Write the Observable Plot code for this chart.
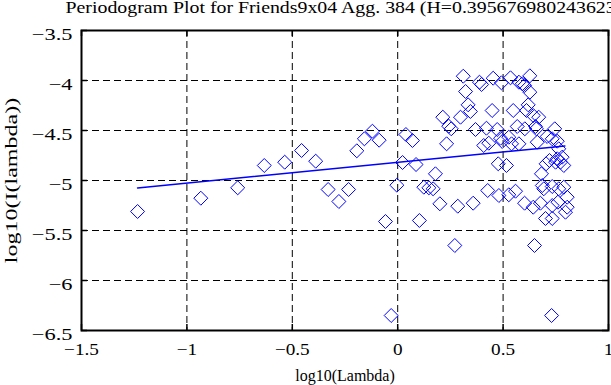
<!DOCTYPE html>
<html>
<head>
<meta charset="utf-8">
<script src="https://cdn.jsdelivr.net/npm/d3@7"></script>
<script src="https://cdn.jsdelivr.net/npm/@observablehq/plot@0.6"></script>
<style>
  html, body { margin: 0; padding: 0; background: white; overflow: hidden; }
</style>
</head>
<body>
<div id="chart"></div>
<script>
const titleText = "Periodogram Plot for Friends9x04 Agg. 384 (H=0.395676980243623)";
const xLabel = "log10(Lambda)";
const yLabel = "log10(I(lambda))";

const xTicks = [-1.5, -1, -0.5, 0, 0.5, 1];
const yTicks = [-6.5, -6, -5.5, -5, -4.5, -4, -3.5];

// periodogram points: log10(lambda)
const logLambda = [
  -1.234, -0.934, -0.759, -0.633, -0.536, -0.456, -0.389, -0.330, -0.279, -0.233,
  -0.194, -0.158, -0.120, -0.088, -0.058, -0.004, 0.023, 0.039, 0.070, 0.087,
  -0.031, 0.103, 0.124, 0.148, 0.168,
  0.311, 0.388, 0.398, 0.453, 0.492, 0.535, 0.575, 0.591, 0.602, 0.627,
  0.322, 0.627, 0.334, 0.345, 0.448, 0.548, 0.619, 0.611, 0.643, 0.669,
  0.214, 0.298, 0.242, 0.254, 0.369, 0.421, 0.472, 0.567, 0.603, 0.654,
  0.658, 0.232, 0.408, 0.432, 0.488, 0.496, 0.527, 0.540, 0.575, 0.662,
  0.709, 0.733, 0.745, 0.757, 0.477, 0.516, 0.179, 0.682, 0.704, 0.720,
  0.757, 0.772, 0.788, 0.780, 0.427, 0.480, 0.527, 0.559, 0.686, 0.693,
  0.733, 0.764, 0.788, 0.804, 0.200, 0.285, 0.358, 0.602, 0.643, 0.677,
  0.760, 0.796, 0.701, 0.733, 0.271, 0.649, 0.730, 0.764, 0.804, 0.733,
  0.749
];
// periodogram points: log10(I(lambda))
const logI = [
  -5.310, -5.177, -5.073, -4.850, -4.817, -4.700, -4.807, -5.090, -5.210, -5.090,
  -4.703, -4.583, -4.507, -4.597, -5.410, -5.047, -4.820, -4.540, -4.600, -4.840,
  -6.350, -5.400, -5.067, -5.073, -5.083,
  -3.957, -4.017, -4.040, -3.977, -4.023, -3.973, -4.017, -4.033, -4.050, -3.953,
  -4.110, -4.117, -4.243, -4.310, -4.300, -4.300, -4.243, -4.300, -4.350, -4.367,
  -4.367, -4.367, -4.457, -4.483, -4.490, -4.477, -4.490, -4.460, -4.483, -4.460,
  -4.483, -4.633, -4.650, -4.627, -4.577, -4.610, -4.567, -4.633, -4.633, -4.617,
  -4.560, -4.583, -4.483, -4.607, -4.833, -4.850, -4.933, -4.933, -4.833, -4.800,
  -4.783, -4.817, -4.850, -4.767, -5.100, -5.150, -5.143, -5.107, -5.050, -5.083,
  -5.060, -5.083, -5.067, -5.167, -5.233, -5.257, -5.227, -5.227, -5.267, -5.227,
  -5.217, -5.317, -5.380, -5.380, -5.650, -5.650, -6.350, -4.683, -5.267, -5.250,
  -4.817
];

// least-squares fit line endpoints
const fitX = [-1.234, 0.793];
const fitY = [-5.074, -4.654];

const points = logLambda.map((x, i) => ({x, y: logI[i]}));
const fit = fitX.map((x, i) => ({x, y: fitY[i]}));
const xGrid = xTicks.slice(1, -1);
const yGrid = yTicks.slice(1, -1);
const fmt = d => (d < 0 ? "\u2212" : "") + Math.abs(d);

const blue = "#0000ff";
const plot = Plot.plot({
  width: 611,
  height: 385,
  marginLeft: 81,
  marginRight: 3,
  marginTop: 30,
  marginBottom: 55,
  x: {domain: [-1.5, 1]},
  y: {domain: [-6.5, -3.5]},
  style: {fontFamily: "'Liberation Serif', 'Times New Roman', serif", fontSize: "16px", background: "white", color: "black"},
  marks: [
    Plot.ruleX(xGrid, {stroke: "black", strokeWidth: 1, strokeDasharray: "7,4"}),
    Plot.ruleY(yGrid, {stroke: "black", strokeWidth: 1, strokeDasharray: "7,4"}),
    Plot.ruleX(xTicks, {stroke: "black", strokeWidth: 1.5, insetTop: 294}),
    Plot.ruleX(xTicks, {stroke: "black", strokeWidth: 1.5, insetBottom: 294}),
    Plot.ruleY(yTicks, {stroke: "black", strokeWidth: 1.5, insetLeft: 521}),
    Plot.ruleY(yTicks, {stroke: "black", strokeWidth: 1.5, insetRight: 521}),
    Plot.dot(points, {x: "x", y: "y", symbol: "diamond2", r: 6.3, stroke: blue, strokeWidth: 1, fill: "none"}),
    Plot.line(fit, {x: "x", y: "y", stroke: blue, strokeWidth: 1.5}),
    Plot.frame({stroke: "black", strokeWidth: 2}),
    Plot.axisX(xTicks, {tickSize: 0, tickPadding: 13, label: null, tickFormat: fmt, fontSize: 16}),
    Plot.axisY(yTicks, {tickSize: 0, tickPadding: 9, label: null, tickFormat: fmt, fontSize: 16, dy: 4}),
    Plot.text([titleText], {frameAnchor: "top-left", textAnchor: "start", lineAnchor: "middle", dx: -16, dy: -22.5, fontSize: 16}),
    Plot.text([xLabel], {frameAnchor: "bottom", textAnchor: "middle", lineAnchor: "middle", dy: 45, fontSize: 16}),
    Plot.text([yLabel], {frameAnchor: "left", textAnchor: "middle", lineAnchor: "middle", rotate: -90, dx: -70, fontSize: 16})
  ]
});
document.getElementById("chart").appendChild(plot);

// the reference glyphs are drawn wider than Liberation Serif: stretch them
function stretch(el, f) {
  const L = el.getComputedTextLength();
  el.setAttribute("textLength", L * f);
  el.setAttribute("lengthAdjust", "spacingAndGlyphs");
}
d3.select(plot).selectAll('g[aria-label="x-axis tick label"] text').each(function() { stretch(this, 1.2); });
d3.select(plot).selectAll('g[aria-label="y-axis tick label"] text').each(function() { stretch(this, 1.4); });
d3.select(plot).selectAll("text").each(function() {
  const t = this.textContent;
  if (t === titleText) stretch(this, 1.24);
  else if (t === yLabel) stretch(this, 1.5);
});
</script>
</body>
</html>
